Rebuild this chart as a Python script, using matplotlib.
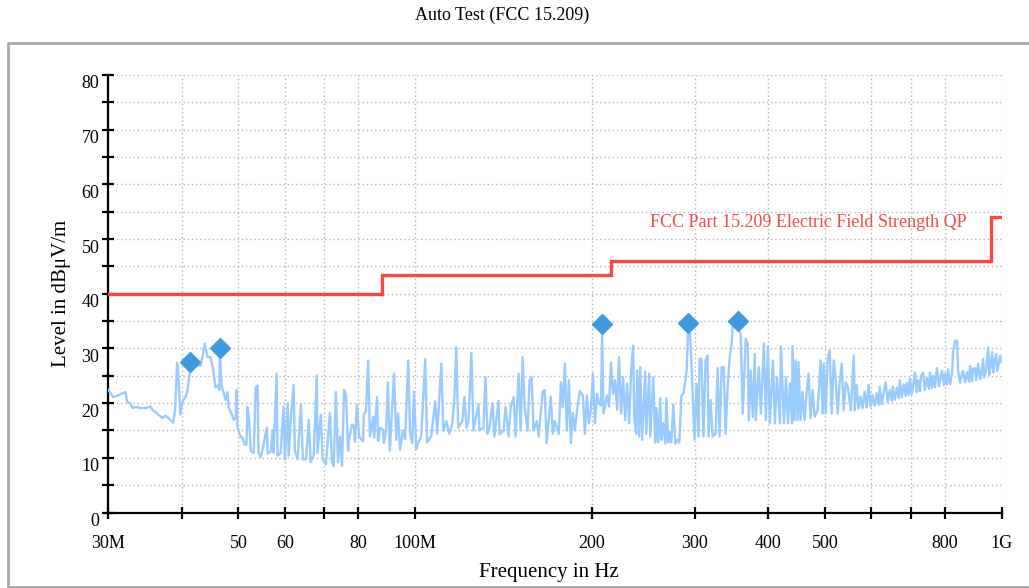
import matplotlib
matplotlib.use("Agg")
import matplotlib.pyplot as plt
from matplotlib.ticker import FixedLocator, FixedFormatter, NullLocator
from matplotlib.transforms import ScaledTranslation
from matplotlib.lines import Line2D

plt.rcParams['font.family'] = ['Liberation Serif', 'DejaVu Serif']

# ---------------- data ----------------
title = "Auto Test (FCC 15.209)"
x_label = "Frequency in Hz"
y_label = "Level in dBμV/m"
limit_name = "FCC Part 15.209 Electric Field Strength QP"

# limit line (MHz, dBuV/m), step-post
limit_mhz = [30, 88, 216, 960, 1000]
limit_db = [40, 43.5, 46, 54, 54]

# final measurement points (QP)
peak_mhz = [41.4, 46.5, 208.5, 292.2, 355.6]
peak_db = [27.6, 30.0, 34.4, 34.7, 35.1]

# pre-scan trace (MHz)
trace_mhz = [
    30.0, 30.6, 31.2, 31.7, 32.1, 32.3, 32.7, 33.0, 33.4, 34.0,
    34.8, 35.4, 35.7, 36.1, 36.5, 37.1, 37.5, 37.8, 38.3, 38.7,
    39.0, 39.3, 39.5, 39.8, 40.1, 40.3, 40.6, 40.9, 41.3, 41.4,
    41.8, 42.6, 43.1, 43.4, 43.8, 44.3, 44.8, 45.2, 45.7, 46.1,
    46.4, 46.5, 46.8, 47.2, 47.5, 47.9, 48.1, 48.9, 49.1, 49.5,
    49.6, 49.8, 50.4, 50.8, 51.2, 51.6, 51.8, 52.1, 52.5, 53.1,
    53.5, 53.9, 54.1, 54.6, 55.2, 55.9, 56.1, 56.8, 57.2, 57.4,
    58.1, 58.3, 59.0, 59.7, 60.0, 60.7, 60.9, 61.4, 62.1, 62.4,
    63.1, 63.9, 64.4, 65.2, 65.9, 66.4, 67.2, 68.0, 68.2, 69.1,
    69.6, 70.5, 71.6, 72.2, 72.7, 73.3, 73.9, 74.5, 75.1, 75.7,
    76.3, 76.9, 77.2, 78.1, 78.7, 79.0, 79.6, 80.3, 81.6, 81.8,
    82.5, 83.2, 83.8, 84.9, 85.2, 86.2, 86.5, 87.2, 88.2, 88.5,
    89.3, 89.9, 90.6,
    92.1, 92.9, 93.6, 94.3, 95.4, 96.2, 97.4, 98.1, 98.9, 99.6,
    100.5, 101.3, 102.5, 104.1, 104.9, 106.6, 108.3, 109.1, 110.9, 111.8,
    113.1, 114.4, 115.7, 116.7, 117.6, 118.5, 120.4, 121.4, 122.4, 123.4,
    124.8, 125.8, 128.3, 128.8, 130.8, 131.9, 132.9, 134.0, 135.6, 136.6,
    138.8, 139.4, 141.6, 142.7, 144.4, 145.6, 147.3, 148.4, 150.2, 151.4,
    152.6, 153.8, 155.6, 156.8, 158.1, 159.3, 161.3, 162.5, 165.1, 166.4,
    167.7, 170.4, 171.8, 173.1, 175.9, 177.3, 178.7, 180.1, 181.5, 183.0,
    184.4, 185.8, 187.3, 189.5, 191.0, 193.3, 194.8, 196.4, 197.9, 199.5,
    201.1, 202.7, 204.3, 206.0, 207.5, 208.5, 209.6, 212.5, 214.2, 215.9,
    217.6, 219.4, 221.1, 222.8, 224.6, 226.4, 228.2, 230.0, 231.8, 233.7,
    235.5, 236.5, 238.3, 239.2, 241.1, 242.1, 244.0, 246.9, 247.9, 250.8,
    251.8, 254.8, 256.8, 257.9, 259.9, 261.9, 263.0, 265.0, 267.2, 268.2,
    270.3, 271.4, 273.6, 275.7, 277.9, 280.1, 282.3, 284.6, 286.8, 289.1,
    290.6, 292.0, 294.5, 297.5, 299.6, 302.0, 304.4, 305.6, 308.0, 310.4,
    312.9, 315.4, 316.6, 319.1, 321.7, 325.5, 328.1, 330.6, 333.3, 335.9,
    338.6, 341.3, 344.0, 346.7, 348.1, 352.2, 356.4, 359.2, 362.1, 366.4,
    369.3, 370.8, 373.7, 376.7, 379.6, 381.1, 385.7, 388.8, 393.4, 396.5,
    399.7, 402.8, 407.6, 410.8, 414.1, 419.0, 420.6, 425.7, 429.1, 432.5,
    435.9, 439.4,
    440.2, 443.7, 445.5, 449.1, 450.6, 454.3, 457.9, 461.5, 465.2, 468.9,
    472.6, 476.4, 480.2, 485.8, 491.6, 495.5, 497.5, 501.4, 505.4, 509.4,
    513.4, 517.5, 521.6, 525.7, 529.9, 534.1, 538.4, 542.6, 546.9, 553.4,
    560.0, 562.2,
    566.0, 570.5, 575.0, 579.7, 584.2, 588.8, 593.6, 598.2, 602.9, 607.7,
    612.6, 617.4, 619.9, 624.8, 629.7, 634.6, 639.7, 644.8, 649.9, 652.5,
    657.7, 662.9, 668.1, 670.8, 676.1, 681.4, 686.8, 689.5, 695.0, 697.8,
    703.3, 708.9, 711.7, 717.3, 720.1, 725.8, 728.7, 734.5, 740.3, 746.1,
    752.0, 755.1, 761.0, 764.1, 770.1, 776.2, 782.4, 788.6, 791.6, 797.9,
    801.1, 807.4, 810.7, 817.1, 823.6, 826.8, 833.3, 839.9, 843.3, 850.0,
    856.7, 860.0, 866.9, 873.7, 880.7, 884.1, 891.1, 894.6, 901.8, 905.3,
    912.5, 919.7, 923.3, 930.6, 934.3, 941.7, 949.1, 952.9, 956.7, 964.2,
    968.1, 971.9, 979.6, 983.4, 987.2, 995.0, 1000.0,
]

# pre-scan trace (dBuV/m)
trace_db = [
    22.4, 21.1, 21.4, 21.8, 22.0, 20.2, 20.0, 19.1, 19.3, 19.1,
    19.1, 19.4, 18.7, 18.4, 17.9, 17.3, 17.7, 17.5, 16.9, 16.4,
    18.8, 27.4, 25.4, 17.9, 20.0, 20.6, 21.1, 22.0, 25.4, 26.5,
    26.6, 26.9, 26.9, 28.4, 30.9, 28.4, 28.4, 26.6, 22.9, 23.2,
    22.4, 29.6, 23.2, 21.8, 20.6, 22.0, 19.3, 17.5, 16.9, 17.5,
    22.4, 15.7, 13.9, 13.7, 12.4, 12.4, 19.3, 17.5, 11.2, 10.9,
    22.9, 23.2, 10.9, 10.1, 12.4, 15.5, 10.7, 11.2, 15.0, 10.9,
    25.4, 10.4, 10.9, 19.3, 9.7, 20.0, 10.4, 16.9, 23.3, 11.4,
    9.7, 19.7, 9.7, 9.7, 16.9, 9.2, 10.4, 25.1, 10.9, 17.9,
    9.7, 8.8, 18.2, 9.2, 8.5, 22.0, 9.2, 13.9, 8.5, 22.4,
    21.4, 11.3, 13.4, 16.1, 15.8, 12.9, 19.7, 13.9, 13.0, 17.9,
    18.5, 27.8, 13.9, 17.5, 13.7, 21.1, 13.1, 15.5, 15.1, 12.7,
    15.1, 23.8, 11.3,
    25.4, 13.3, 18.1, 11.5, 15.0, 13.4, 27.8, 14.4, 12.7, 22.1,
    11.6, 12.8, 13.9, 28.1, 12.8, 14.0, 20.3, 14.4, 27.2, 14.9,
    16.7, 14.4, 16.1, 20.8, 30.2, 15.5, 16.7, 21.1, 15.5, 16.7,
    29.2, 15.0, 19.8, 15.0, 15.5, 24.7, 14.4, 15.5, 20.0, 13.9,
    20.4, 14.3, 15.0, 19.3, 13.9, 19.3, 21.1, 13.9, 25.4, 15.0,
    28.4, 19.3, 15.0, 24.2, 24.7, 15.0, 16.7, 13.9, 22.1, 22.4,
    12.7, 21.2, 14.4, 16.7, 14.4, 23.8, 19.3, 27.2, 15.0, 24.2,
    12.7, 18.2, 15.0, 19.7, 22.2, 21.4, 14.4, 21.4, 16.3, 18.8,
    25.4, 16.3, 21.7, 19.9, 19.6, 32.7, 18.1, 21.4, 19.4, 27.4,
    21.7, 24.2, 18.8, 28.4, 18.1, 24.7, 16.9, 23.6, 16.3, 26.0,
    30.5, 17.3, 14.4, 26.0, 13.9, 26.6, 13.3, 25.7, 14.4, 25.4,
    13.9, 24.7, 12.8, 19.1, 12.8, 20.9, 13.3, 16.3, 12.6, 20.9,
    12.8, 14.8, 12.8, 19.7, 12.6, 13.3, 12.8, 21.4, 21.7, 24.2,
    26.0, 32.7, 32.7, 21.7, 13.3, 23.6, 13.9, 28.1, 28.1, 13.9,
    27.8, 28.7, 13.9, 20.6, 13.9, 14.4, 26.4, 13.9, 26.6, 26.6,
    14.4, 23.0, 28.3, 30.9, 34.4, 33.9, 33.2, 32.7, 18.1, 31.8,
    30.9, 16.9, 26.0, 17.5, 29.0, 16.9, 26.6, 18.1, 30.9, 16.9,
    30.4, 16.3, 27.8, 16.3, 24.7, 16.3, 30.4, 16.3, 24.7, 16.3,
    23.6, 16.3,
    30.4, 16.9, 27.8, 16.9, 27.5, 16.9, 22.1, 16.9, 21.8, 25.4,
    17.2, 22.4, 17.5, 18.7, 27.8, 18.1, 27.2, 18.1, 28.1, 29.6,
    18.1, 27.8, 24.2, 18.1, 23.8, 27.2, 18.7, 23.8, 23.0, 18.7,
    28.7, 18.7,
    23.3, 19.0, 21.2, 19.1, 22.1, 19.2, 23.3, 19.4, 21.4, 19.5,
    21.8, 19.7, 23.0, 19.8, 22.0, 23.8, 20.2, 22.4, 20.4, 23.0,
    20.6, 22.8, 20.9, 24.2, 21.1, 23.4, 21.3, 23.7, 21.5, 24.5,
    21.7, 24.0, 25.6, 22.0, 24.2, 22.2, 24.9, 25.6, 22.4, 24.6,
    22.6, 25.6, 22.8, 25.0, 22.9, 26.4, 23.1, 25.2, 25.9, 23.3,
    25.4, 23.4, 26.2, 23.5, 25.4, 29.3, 31.4, 31.4, 25.9, 23.7,
    25.6, 25.9, 23.8, 25.7, 23.9, 26.8, 24.0, 26.3, 26.4, 24.2,
    27.2, 24.4, 25.1, 28.1, 24.7, 26.2, 30.2, 25.2, 26.4, 29.3,
    25.6, 27.2, 29.0, 25.9, 26.8, 28.7, 27.5,
]

x_ticks = [30, 40, 50, 60, 70, 80, 100, 200, 300, 400, 500, 600, 700, 800, 1000]
x_tick_labels = ['30M', '', '50', '60', '', '80', '100M', '200', '300', '400',
                 '500', '', '', '800', '1G']
y_major = [0, 10, 20, 30, 40, 50, 60, 70, 80]
y_minor = [5, 15, 25, 35, 45, 55, 65, 75]

# ---------------- figure ----------------
W, H = 1029, 588
fig = plt.figure(figsize=(W / 100, H / 100), dpi=100)
fig.patch.set_facecolor('white')

left_px, right_px, top_px, bot_px = 108.3, 1001.5, 75.0, 512.5
ax = fig.add_axes([left_px / W, 1 - bot_px / H,
                   (right_px - left_px) / W, (bot_px - top_px) / H])

# outer grey frame
fy_top = 1 - 42.5 / H
fy_bot = 1 - 587.0 / H
fx_l = 7.5 / W
fig.add_artist(Line2D([1.02, fx_l, fx_l, 1.02], [fy_bot, fy_bot, fy_top, fy_top],
                      color='#a9a9a9', lw=2.0, transform=fig.transFigure))

ax.set_xscale('log')
ax.set_xlim(30, 1000)
ax.set_ylim(0, 80)

ax.xaxis.set_major_locator(FixedLocator(x_ticks))
ax.xaxis.set_major_formatter(FixedFormatter(x_tick_labels))
ax.xaxis.set_minor_locator(NullLocator())
ax.yaxis.set_major_locator(FixedLocator(y_major))
ax.yaxis.set_minor_locator(FixedLocator(y_minor))

for s in ['top', 'right']:
    ax.spines[s].set_visible(False)
for s in ['left', 'bottom']:
    ax.spines[s].set_linewidth(1.6)
    ax.spines[s].set_color('black')

ax.tick_params(axis='both', which='both', direction='inout', length=8, width=1.6,
               color='black', labelsize=13)
ax.tick_params(axis='x', pad=12.5)
ax.tick_params(axis='y', pad=2.5)

grid_kw = dict(color='#b4b4b4', linestyle=(0, (1, 2)), linewidth=1.0)
ax.grid(True, axis='x', which='major', **grid_kw)
ax.grid(True, axis='y', which='both', **grid_kw)
ax.set_axisbelow(True)

# shift y tick labels a little downward as in the reference
offset = ScaledTranslation(0, -7 / 100, fig.dpi_scale_trans)
for lab in ax.get_yticklabels():
    lab.set_transform(lab.get_transform() + offset)

# trace
ax.plot(trace_mhz, trace_db, color='#99cbff', lw=1.7, zorder=3)

# limit
ax.step(limit_mhz, limit_db, where='post', color='#ff4444', lw=2.4, zorder=4,
        solid_joinstyle='miter')

# QP points
ax.plot(peak_mhz, peak_db, linestyle='none', marker='D', ms=10.5,
        color='#3f9be0', mec='#3f9be0', zorder=5)

# texts
fig.text(967 / W, 1 - 223 / H, limit_name, color='#f04a4a', fontsize=13,
         ha='right', va='center')
fig.text(502 / W, 1 - 15 / H, title, fontsize=13, ha='center', va='center')
fig.text(549 / W, 1 - 573 / H, x_label, fontsize=15, ha='center', va='center')
fig.text(61.7 / W, 1 - 293.75 / H, y_label, fontsize=15, ha='center',
         va='center', rotation=90)

fig.savefig('out.png', dpi=100)
